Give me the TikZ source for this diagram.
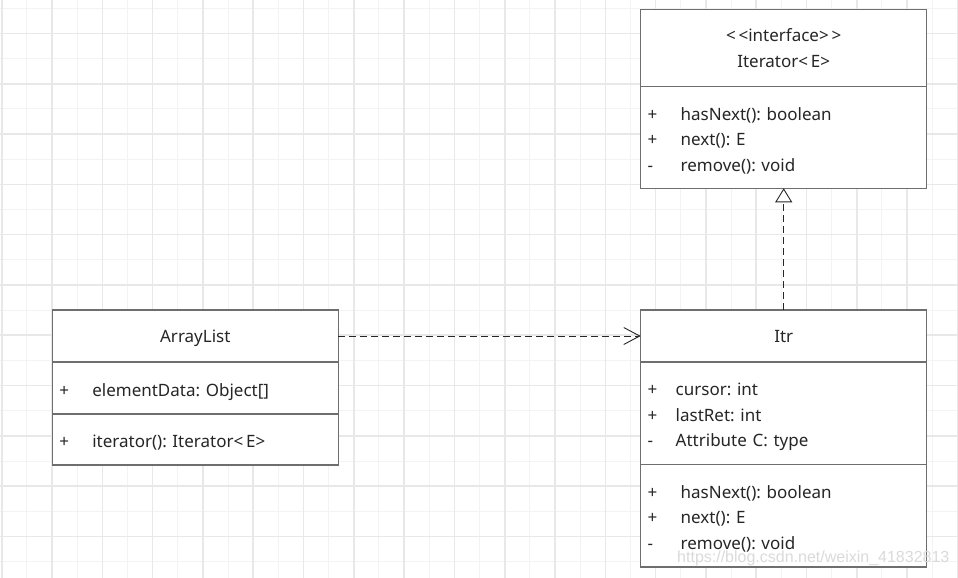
\documentclass[tikz,border=0pt]{standalone}
\usepackage{fontspec}
\setmainfont{Noto Sans}
\newfontfamily\markfont{Liberation Sans}
\usepackage{tikz}
\usetikzlibrary{positioning,arrows.meta}
\definecolor{umlline}{RGB}{110,110,110}
\definecolor{umltext}{RGB}{38,38,38}
\definecolor{gridminor}{RGB}{243,243,243}
\definecolor{gridmajor}{RGB}{232,232,232}
\definecolor{marktext}{RGB}{218,218,218}
\newcommand{\mlist}[2][33pt]{\vspace*{-6pt}\begin{tabular}{@{}p{#1}@{}l@{}}#2\end{tabular}}
\frenchspacing

\begin{document}
\begin{tikzpicture}[
        x=1pt, y=-1pt,
        node distance=0pt,
        every node/.style={font=\fontsize{17}{25.5}\selectfont, text=umltext},
        umlbox/.style={rectangle, draw=umlline, line width=1.2pt, fill=white, minimum width=286pt, minimum height=52pt, inner sep=0pt, outer sep=0pt},
        head/.style={umlbox, align=center, text depth=0pt},
        members/.style={umlbox, align=left, text width=272pt, inner xsep=7pt},
        dep/.style={dash pattern=on 7pt off 4pt, line width=0.9pt, draw=umltext}
    ]
        \useasboundingbox (0,0) rectangle (958,578);
        \fill[white] (0,0) rectangle (958,578);

        % Grid
        \foreach \i in {0,...,38}
            \draw[gridminor, line width=1pt] (1.7+25.15*\i,0) -- (1.7+25.15*\i,578);
        \foreach \j in {0,...,22}
            \draw[gridminor, line width=1pt] (0,8.3+25.15*\j) -- (958,8.3+25.15*\j);
        \foreach \i in {0,2,...,38}
            \draw[gridmajor, line width=1.6pt] (1.7+25.15*\i,0) -- (1.7+25.15*\i,578);
        \foreach \j in {1,3,...,21}
            \draw[gridmajor, line width=1.6pt] (0,8.3+25.15*\j) -- (958,8.3+25.15*\j);

        % Classes
        \node[head] (arraylist) at (195.3,336) {ArrayList};
        \node[members, below=of arraylist] (arraylist-attr) {\mlist{+ & elementData: Object[]}};
        \node[members, minimum height=51pt, below=of arraylist-attr] (arraylist-ops) {\mlist{+ & iterator(): Iterator<\,E>}};

        \node[head] (itr) at (783.7,336) {Itr};
        \node[members, minimum height=102.6pt, below=of itr] (itr-attr) {\mlist[28pt]{+ & cursor: int\\ + & lastRet: int\\ - & Attribute C: type}};
        \node[members, minimum height=102.4pt, below=of itr-attr] (itr-ops) {\mlist{+ & hasNext(): boolean\\ + & next(): E\\ - & remove(): void}};

        \node[umlbox, align=center, minimum height=77.4pt] (iterator) at (783.7,48) {<\,<interface>\,>\\Iterator<\,E>};
        \node[members, minimum height=101.6pt, below=of iterator] (iterator-ops) {\mlist{+ & hasNext(): boolean\\ + & next(): E\\ - & remove(): void}};

        % Relations
        \draw[dep, -{Straight Barb[length=16pt, width=17pt]}] (arraylist.east) -- (itr.west);
        \draw[dep, -{Triangle[length=14pt, width=17pt, fill=white]}] (itr.north) -- (iterator-ops.south);

        \node[text=marktext, font=\markfont\fontsize{16}{16}\selectfont, anchor=west, inner sep=0pt] (watermark) at (677,558) {https://blog.csdn.net/weixin\_41832813};
    \end{tikzpicture}
\end{document}
